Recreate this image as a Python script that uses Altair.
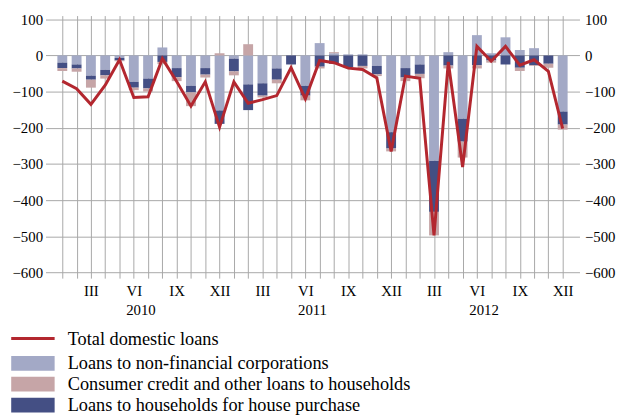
import altair as alt
import pandas as pd

months = list(range(1, 37))
corp = [-20, -25, -56, -40, -7, -73, -64, 22, -35, -84, -35, -152,
        -9, -80, -77, -36, 0, -84, 34, 6, 3, 3, -29, -212,
        -35, -25, -291, 9, -175, 56, 6, 50, 15, 20, 0, -155]
housing = [-15, -11, -11, -15, -7, -16, -27, -18, -25, -18, -18, -37,
           -35, -71, -34, -31, -25, -27, -31, -23, -32, -29, -23, -45,
           -26, -26, -141, -28, -63, -27, -14, -25, -34, -27, -23, -36]
consumer = [-8, -9, -22, -9, -2, -7, -9, -6, -11, -38, -8, 6,
            -11, 31, -5, -10, 0, -13, -5, 3, -2, -7, -5, -8,
            -10, -12, -65, -8, -44, -9, -6, 0, -9, -2, -11, -14]
total = [-71, -92, -135, -82, -12, -116, -114, -9, -72, -140, -73, -198,
         -73, -132, -122, -111, -34, -120, -14, -20, -35, -39, -62, -265,
         -57, -63, -497, -18, -308, 25, -16, 25, -27, -12, -44, -202]
years = ["2010", "2011", "2012"]
year_pos = [6.5, 18.5, 30.5]
roman = ["", "", "III", "", "", "VI", "", "", "IX", "", "", "XII"]

s_corp = "Loans to non-financial corporations"
s_cons = "Consumer credit and other loans to households"
s_house = "Loans to households for house purchase"
s_total = "Total domestic loans"

rows = []
for i, m in enumerate(months):
    rows.append({"m": m, "series": s_corp, "value": corp[i], "ord": 0})
    rows.append({"m": m, "series": s_house, "value": housing[i], "ord": 1})
    rows.append({"m": m, "series": s_cons, "value": consumer[i], "ord": 2})
bars_df = pd.DataFrame(rows)
line_df = pd.DataFrame({"m": months, "total": total, "name": [s_total] * len(months)})
year_df = pd.DataFrame({"pos": year_pos, "year": years})

FONT = "Liberation Serif, Times New Roman, serif"
W, H = 541, 266
xscale = alt.Scale(domain=[0.17, 36.83], nice=False, zero=False)
yscale = alt.Scale(domain=[-615, 110], nice=False, zero=False)
yvals = [-600, -500, -400, -300, -200, -100, 0, 100]
label_expr = "[" + ",".join("'%s'" % r for r in roman) + "][(datum.value - 1) % 12]"


def x_axis():
    return alt.Axis(values=months, labelExpr=label_expr, grid=True, ticks=False,
                    domain=False, title=None, labelOverlap=False, labelFlush=False,
                    labelPadding=6, labelFont=FONT, labelFontSize=15, labelColor="black",
                    gridColor="#a8a8a8", gridWidth=1)


bars = alt.Chart(bars_df).mark_bar(size=10).encode(
    x=alt.X("m:Q", scale=xscale, axis=x_axis()),
    y=alt.Y("value:Q", scale=yscale, stack="zero",
            axis=alt.Axis(orient="left", values=yvals, grid=True, ticks=False, domain=False,
                          title=None, labelPadding=3, labelFont=FONT, labelFontSize=15,
                          labelColor="black", gridColor="#a8a8a8", gridWidth=1)),
    color=alt.Color("series:N",
                    scale=alt.Scale(domain=[s_corp, s_cons, s_house],
                                    range=["#a3a9c6", "#c6a5a7", "#444f84"]),
                    legend=alt.Legend(orient="none", legendX=-22, legendY=343, title=None,
                                      symbolType="M-4,-1.36H4V1.36H-4Z", symbolSize=121,
                                      symbolStrokeWidth=0, symbolOpacity=1,
                                      labelFont=FONT, labelFontSize=18.5, labelColor="black",
                                      labelOffset=26, rowPadding=2.2, labelLimit=500)),
    order=alt.Order("ord:Q"),
)

line = alt.Chart(line_df).mark_line(strokeWidth=3, strokeJoin="miter").encode(
    x=alt.X("m:Q", scale=xscale, axis=x_axis()),
    y=alt.Y("total:Q", scale=yscale,
            axis=alt.Axis(orient="right", values=yvals, grid=False, ticks=False, domain=False,
                          title=None, labelPadding=5, labelFont=FONT, labelFontSize=15,
                          labelColor="black")),
    stroke=alt.Stroke("name:N", scale=alt.Scale(domain=[s_total], range=["#b3272f"]),
                      legend=alt.Legend(orient="none", legendX=-22, legendY=318, title=None,
                                        symbolType="M-4,0H4", symbolSize=121,
                                        symbolStrokeWidth=3, labelFont=FONT,
                                        labelFontSize=18.5, labelColor="black",
                                        labelOffset=26, labelLimit=500)),
)

year_text = alt.Chart(year_df).mark_text(font=FONT, fontSize=15, baseline="alphabetic",
                                         color="black").encode(
    x=alt.X("pos:Q", scale=xscale, axis=x_axis()),
    y=alt.value(303),
    text="year:N",
)

chart = alt.layer(bars, line, year_text).resolve_scale(
    y="shared", color="independent"
).resolve_axis(y="independent").properties(
    width=W, height=H,
    autosize=alt.AutoSizeParams(type="none"),
    padding={"left": 38, "top": 5, "right": 37, "bottom": 138},
).configure_view(stroke=None)

chart.save("out.html", embed_options={"renderer": "svg", "actions": False})
